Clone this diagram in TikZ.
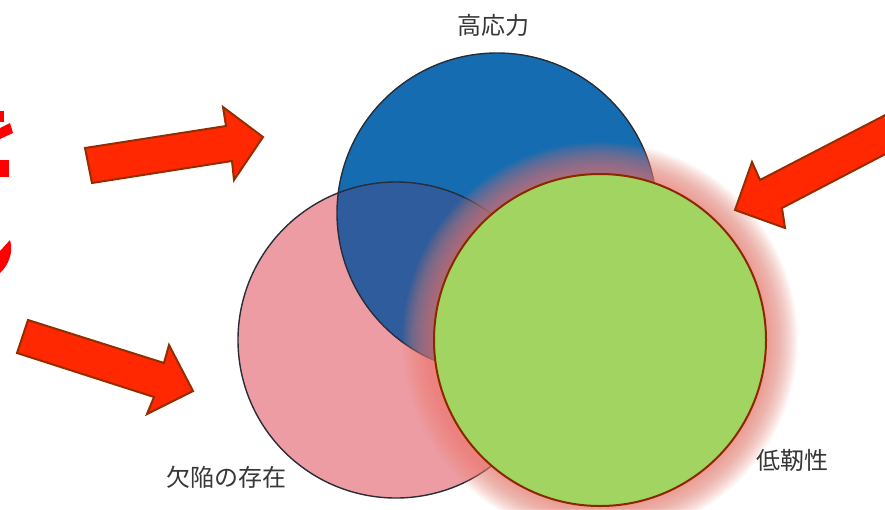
\documentclass[tikz,border=0pt]{standalone}
\usepackage{fontspec}
\newfontfamily\cjk{Noto Sans CJK JP}
\definecolor{bluefill}{RGB}{22,108,176}
\definecolor{lensfill}{RGB}{46,92,156}
\definecolor{pinkfill}{RGB}{238,156,164}
\definecolor{circline}{RGB}{40,45,55}
\definecolor{greenfill}{RGB}{161,212,96}
\definecolor{greenline}{RGB}{140,40,0}
\definecolor{glowc}{RGB}{236,130,118}
\definecolor{arrowfill}{RGB}{255,40,0}
\definecolor{arrowline}{RGB}{150,45,0}
\definecolor{labelc}{RGB}{55,55,55}
\definecolor{fragred}{RGB}{255,0,0}
\begin{document}
\begin{tikzpicture}[x=1pt,y=-1pt,
  circout/.style={draw=circline,line width=1.4pt},
  bigarrow/.style={fill=arrowfill,draw=arrowline,line width=2pt,line join=miter},
  lbl/.style={text=labelc,font=\cjk\fontsize{24}{24}\selectfont,inner sep=0pt},
  frag/.style={fill=fragred}]
\useasboundingbox (0,0) rectangle (885,509);
\clip (0,0) rectangle (885,509);
\fill[white] (0,0) rectangle (885,509);
% circle centres
\coordinate (bc) at (497,213);
\coordinate (pc) at (396,340);
\coordinate (gc) at (600,340);
% blue and pink circles
\fill[bluefill] (bc) circle (160pt);
\fill[pinkfill] (pc) circle (158pt);
\begin{scope}
  \clip (pc) circle (158pt);
  \fill[lensfill] (bc) circle (160pt);
\end{scope}
\draw[circout] (bc) circle (160pt);
\draw[circout] (pc) circle (158pt);
% glow of green circle
\foreach \i in {0,...,32} {
  \fill[glowc,opacity=0.04] (gc) circle ({166+\i*1pt});
}
\fill[greenfill] (gc) circle (166pt);
\draw[greenline,line width=2pt] (gc) circle (166pt);
% arrows
\draw[bigarrow] (85,148) -- (226,126) -- (223,107) -- (263,137) -- (234,180) -- (232,161) -- (92,183) -- cycle;
\draw[bigarrow] (28,320) -- (164,363) -- (169,345) -- (193,391) -- (147,414) -- (154,397) -- (17,353) -- cycle;
\draw[bigarrow] (895,110) -- (760,180) -- (752,162) -- (735,210) -- (785,228) -- (782,208) -- (895,149) -- cycle;
% red fragments at the left edge
\fill[frag] (0,111) rectangle (4,122);
\fill[frag] (0,128) -- (10,123) -- (13,133) -- (0,139) -- cycle;
\fill[frag] (0,160) rectangle (9,177);
\fill[frag] (0,251) -- (10,240) .. controls (14,252) and (8,266) .. (0,273) -- cycle;
% labels
\node[lbl] (t1) at (493,25) {高応力};
\node[lbl] (t2) at (226,477) {欠陥の存在};
\node[lbl] (t3) at (792,460) {低靭性};
\end{tikzpicture}
\end{document}
